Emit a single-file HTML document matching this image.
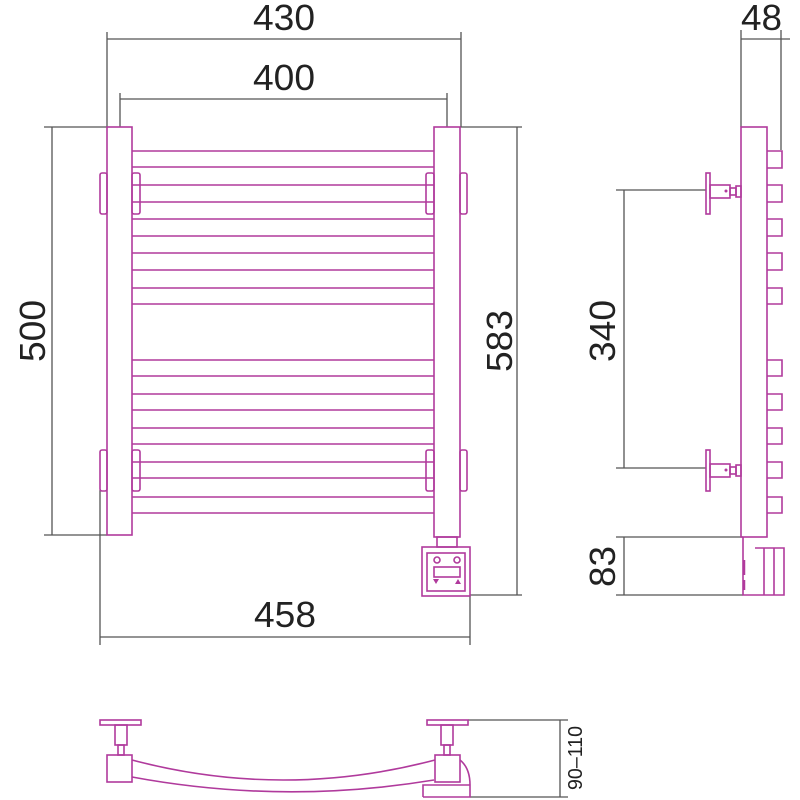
<!DOCTYPE html>
<html><head><style>html,body{margin:0;padding:0;background:#fff}svg{display:block}</style></head><body>
<svg width="800" height="800" viewBox="0 0 800 800" xmlns="http://www.w3.org/2000/svg">
<g fill="none" stroke="#555" stroke-width="1.3">
<path d="M107 32V127M461 32V127M107 39H461"/>
<path d="M120 93V127M447 93V127M120 99H447"/>
<path d="M44 127H107M44 535H107M52 127V535"/>
<path d="M460 127H522M470 595H522M517 127V595"/>
<path d="M100 490V645M470 596V645M100 637H470"/>
<path d="M741 30V127M781 30V150M741 39H790"/>
<path d="M616 190H706M616 468H706M624 190V468"/>
<path d="M616 537H743M616 595H743M624 537V595"/>
<path d="M468 720H568M470 797H568M560 720V797"/>
</g>
<g font-family="Liberation Sans, DejaVu Sans, sans-serif" font-size="36" fill="#222">
<text x="253" y="30" textLength="62" lengthAdjust="spacingAndGlyphs">430</text>
<text x="253" y="90" textLength="62" lengthAdjust="spacingAndGlyphs">400</text>
<text x="254" y="627" textLength="62" lengthAdjust="spacingAndGlyphs">458</text>
<text x="741" y="30" textLength="41" lengthAdjust="spacingAndGlyphs">48</text>
<text transform="translate(45,362) rotate(-90)" textLength="62" lengthAdjust="spacingAndGlyphs">500</text>
<text transform="translate(512,372) rotate(-90)" textLength="62" lengthAdjust="spacingAndGlyphs">583</text>
<text transform="translate(615,362) rotate(-90)" textLength="62" lengthAdjust="spacingAndGlyphs">340</text>
<text transform="translate(615,587) rotate(-90)" textLength="41" lengthAdjust="spacingAndGlyphs">83</text>
<text transform="translate(582,790) rotate(-90)" font-size="20" textLength="64" lengthAdjust="spacingAndGlyphs">90–110</text>
</g>
<g fill="none" stroke="#b03a9c" stroke-width="1.6">
<rect x="107" y="127" width="25" height="408"/>
<rect x="434" y="127" width="26" height="410"/>
<path d="M132 151H434M132 167H434M132 185H434M132 202H434M132 219H434M132 236H434M132 253H434M132 270H434M132 288H434M132 304H434M132 360H434M132 376H434M132 394H434M132 410H434M132 428H434M132 444H434M132 462H434M132 478H434M132 497H434M132 513H434"/>
<rect x="100" y="173" width="7" height="41" rx="2"/>
<rect x="132" y="173" width="8" height="41" rx="2"/>
<rect x="426" y="173" width="8" height="41" rx="2"/>
<rect x="460" y="173" width="7" height="41" rx="2"/>
<rect x="100" y="450" width="7" height="41" rx="2"/>
<rect x="132" y="450" width="8" height="41" rx="2"/>
<rect x="426" y="450" width="8" height="41" rx="2"/>
<rect x="460" y="450" width="7" height="41" rx="2"/>
<rect x="437" y="537" width="20" height="10"/>
<rect x="422" y="547" width="48" height="49"/>
<rect x="427" y="553" width="38" height="38"/>
<circle cx="437" cy="560" r="3"/>
<circle cx="457" cy="560" r="3"/>
<rect x="434" y="567" width="26" height="10"/>
<rect x="741" y="127" width="26" height="410"/>
<path d="M767 151h15v17h-15M767 185h15v17h-15M767 219h15v17h-15M767 253h15v17h-15M767 288h15v16h-15M767 360h15v16h-15M767 394h15v16h-15M767 428h15v16h-15M767 462h15v16h-15M767 497h15v16h-15"/>
<rect x="706" y="173" width="4" height="41"/>
<rect x="710" y="185" width="20" height="13"/>
<rect x="730" y="188" width="6" height="7"/>
<rect x="736" y="186" width="5" height="11"/>
<rect x="706" y="450" width="4" height="41"/>
<rect x="710" y="464" width="20" height="13"/>
<rect x="730" y="467" width="6" height="7"/>
<rect x="736" y="465" width="5" height="11"/>
<path d="M743 537V595H784V548H755M764 548V595M774 548V595"/>
<path d="M744 560V575M744 580V590" stroke-width="2.5"/>
<rect x="100" y="720" width="41" height="5"/>
<rect x="115" y="725" width="12" height="20"/>
<rect x="118" y="745" width="6" height="10"/>
<rect x="107" y="755" width="25" height="27"/>
<rect x="427" y="720" width="41" height="5"/>
<rect x="441" y="725" width="12" height="20"/>
<rect x="444" y="745" width="6" height="10"/>
<rect x="435" y="755" width="25" height="27"/>
<path d="M132 760Q283 800 435 760M132 777Q283 805 434 780"/>
<path d="M423 797V785H470V797H423M460 760Q470 768 470 785"/>
</g>
<g fill="#b03a9c">
<path d="M433 579l3 5 3-5z M455 584l3-5 3 5z"/>
<circle cx="726" cy="191" r="1.5"/><circle cx="726" cy="470" r="1.5"/>
</g>
</svg>
</body></html>
